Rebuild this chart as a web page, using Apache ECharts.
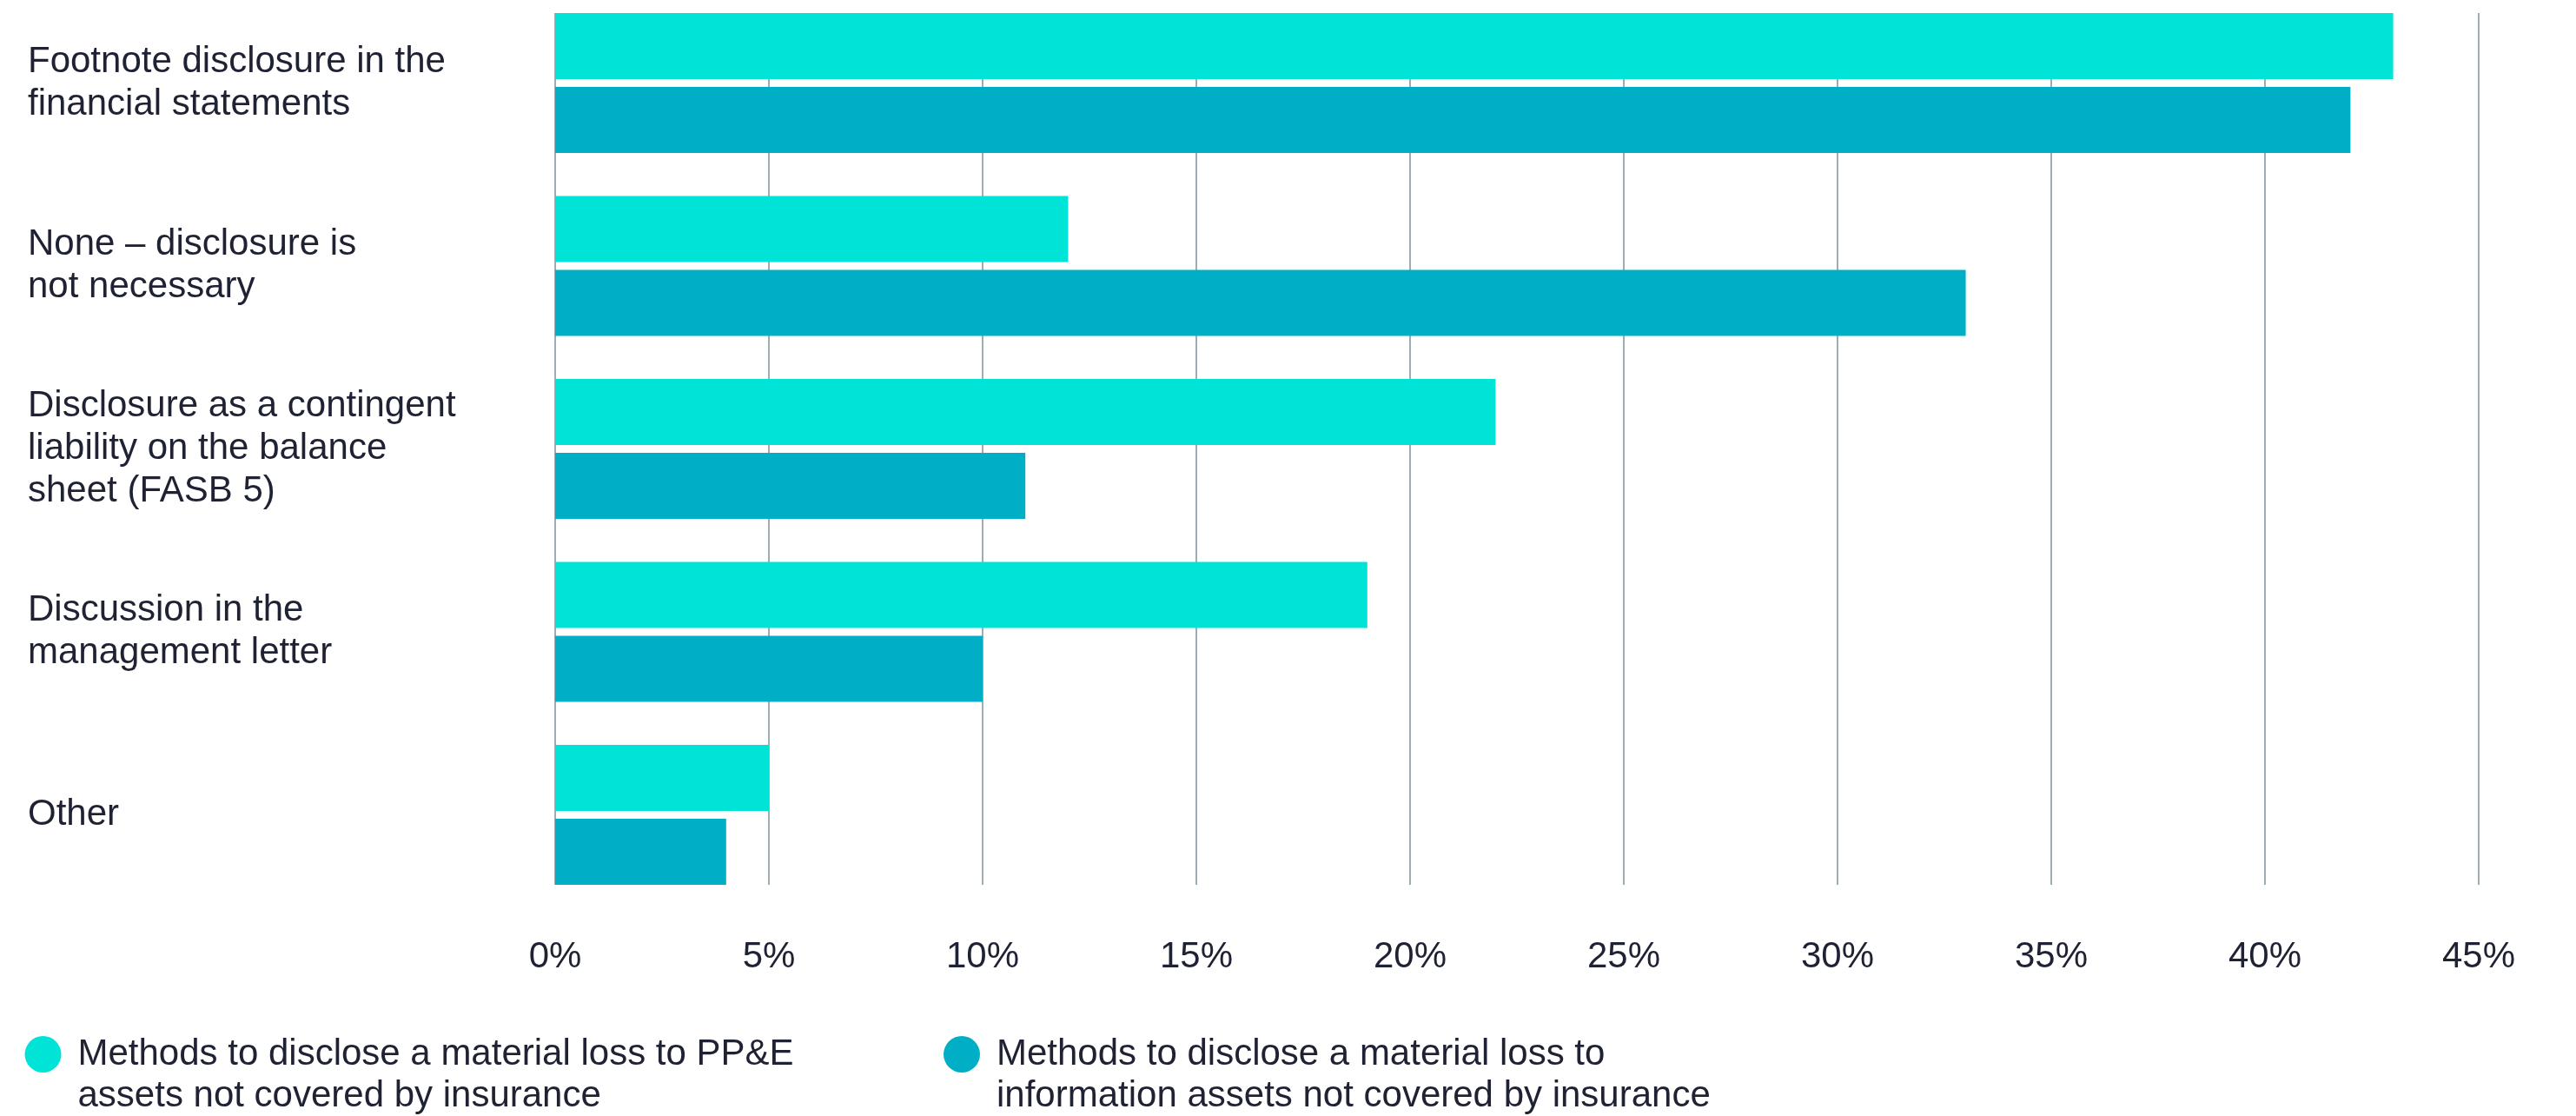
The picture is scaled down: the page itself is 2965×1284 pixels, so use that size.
<!DOCTYPE html>
<html>
<head>
<meta charset="utf-8">
<script src="https://cdn.jsdelivr.net/npm/echarts@6/dist/echarts.min.js"></script>
<style>
  html, body { margin: 0; padding: 0; background: #ffffff; }
  #chart { width: 2965px; height: 1284px; }
</style>
</head>
<body>
<div id="chart"></div>
<script>
// Survey responses: how a material uninsured loss should be disclosed
const categories = [
  'Footnote disclosure in the\nfinancial statements',
  'None – disclosure is\nnot necessary',
  'Disclosure as a contingent\nliability on the balance\nsheet (FASB 5)',
  'Discussion in the\nmanagement letter',
  'Other'
];
const seriesNames = [
  'Methods to disclose a material loss to PP&E\nassets not covered by insurance',
  'Methods to disclose a material loss to\ninformation assets not covered by insurance'
];
const ppeValues = [43, 12, 22, 19, 5];
const infoValues = [42, 33, 11, 10, 4];
const axisMin = 0;
const axisMax = 45;
const axisStep = 5;

const FONT = 'Liberation Sans';
const TEXT = '#1f2233';
const CYAN = '#00e4d8';
const TEAL = '#00afc6';

const chart = echarts.init(document.getElementById('chart'), null, { renderer: 'canvas' });

// legend text: a leading blank line keeps the marker level with the first line
const legendText = {
  fontFamily: FONT,
  fontSize: 42,
  color: TEXT,
  lineHeight: 48,
  padding: [0, 0, 0, 14]
};
const legendFormatter = name => '\n' + name;

chart.setOption({
  animation: false,
  backgroundColor: '#ffffff',
  grid: [
    // bars
    { left: 639, right: 112, top: -9.75, height: 1052.5, containLabel: false, outerBoundsMode: 'none' },
    // vertical guides and the percentage scale
    { left: 639, right: 112, top: 15, height: 1003, containLabel: false, outerBoundsMode: 'none' }
  ],
  xAxis: [
    {
      gridIndex: 0, type: 'value', min: axisMin, max: axisMax, interval: axisStep,
      axisLine: { show: false }, axisTick: { show: false },
      axisLabel: { show: false }, splitLine: { show: false }
    },
    {
      gridIndex: 1, type: 'value', min: axisMin, max: axisMax, interval: axisStep,
      axisLine: { show: false }, axisTick: { show: false },
      axisLabel: {
        formatter: '{value}%', margin: 62,
        fontFamily: FONT, fontSize: 42, color: TEXT
      },
      splitLine: { show: true, lineStyle: { color: '#9eadb4', width: 2 } }
    }
  ],
  yAxis: [
    {
      gridIndex: 0, type: 'category', data: categories, inverse: true,
      axisLine: { show: false }, axisTick: { show: false }, splitLine: { show: false },
      axisLabel: {
        align: 'left', margin: 607,
        fontFamily: FONT, fontSize: 42, color: TEXT, lineHeight: 49
      }
    },
    {
      gridIndex: 1, type: 'value', show: false
    }
  ],
  legend: [
    {
      data: [seriesNames[0]], left: 28.5, top: 1141, padding: 0,
      icon: 'circle', itemWidth: 42, itemHeight: 42,
      formatter: legendFormatter,
      textStyle: legendText, selectedMode: false
    },
    {
      data: [seriesNames[1]], left: 1086, top: 1141, padding: 0,
      icon: 'circle', itemWidth: 42, itemHeight: 42,
      formatter: legendFormatter,
      textStyle: legendText, selectedMode: false
    }
  ],
  series: [
    {
      name: seriesNames[0], type: 'bar', xAxisIndex: 0, yAxisIndex: 0,
      data: ppeValues, barWidth: 76, barGap: '12%',
      itemStyle: { color: CYAN }
    },
    {
      name: seriesNames[1], type: 'bar', xAxisIndex: 0, yAxisIndex: 0,
      data: infoValues, barWidth: 76, barGap: '12%',
      itemStyle: { color: TEAL }
    }
  ]
});
</script>
</body>
</html>
